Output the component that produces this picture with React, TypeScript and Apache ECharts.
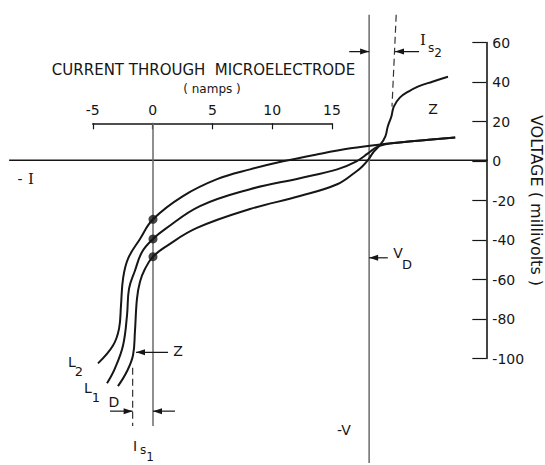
import React, { useEffect, useRef } from "react";
import * as echarts from "echarts";

// Current through the microelectrode (nA) and membrane voltage (mV)
const CURRENT_TICKS = [-5, 0, 5, 10, 15];
const VOLTAGE_TICKS = [-100, -80, -60, -40, -20, 0, 20, 40, 60];

// I–V curves: [current nA, voltage mV]
const L2_CURVE: [number, number][] = [
  [-4.57, -103.3], [-3.32, -94.2], [-2.82, -85.6], [-2.66, -73.9], [-2.49, -60.3],
  [-2.08, -50.1], [-1.08, -40.0], [0, -30], [2.49, -18.2], [5.32, -9.6],
  [8.06, -4.6], [10.8, -0.5], [13.6, 3.0], [16.4, 6.1], [18.9, 8.1],
  [22.2, 10.1], [25.1, 11.6],
];
const L1_CURVE: [number, number][] = [
  [-3.82, -113.4], [-3.16, -105.8], [-2.49, -94.2], [-2.16, -79.0], [-1.99, -65.3],
  [-1.5, -56.2], [-0.91, -46.6], [0, -40], [1.0, -35.0], [3.9, -23.3],
  [8.06, -14.7], [12.2, -9.1], [15.3, -4.6], [16.9, -0.5], [17.85, 3.5],
  [18.7, 7.1], [20.5, 9.1], [22.9, 10.4], [25.1, 11.6],
];
const D_CURVE: [number, number][] = [
  [-2.91, -114.9], [-2.16, -107.3], [-1.66, -99.2], [-1.5, -87.1], [-1.33, -70.4],
  [-1.08, -61.8], [-0.66, -55.2], [0, -49], [1.16, -43.5], [3.65, -34.4],
  [8.06, -24.8], [12.2, -18.2], [15.3, -12.2], [16.8, -6.1], [17.4, -3.0],
  [17.9, 0.5], [18.3, 4.1], [18.9, 8.1], [19.3, 12.2], [19.5, 17.2],
  [19.8, 22.3], [20.0, 27.3], [20.5, 31.9], [21.2, 34.9], [22.0, 37.5],
  [23.2, 40.0], [24.5, 42.5],
];

// Resting points at zero injected current
const ZERO_CURRENT_POINTS: [number, number][] = [[0, -30], [0, -40], [0, -49]];

// Reference lines
const ZERO_CURRENT_LINE: [number, number][] = [[0, 19.1], [0, -135.2]];
const VD_LINE: [number, number][] = [[17.95, 74], [17.95, -154]];
const ZERO_VOLTAGE_LINE: [number, number][] = [[-11.95, 0], [27.8, 0]];
const IS1_LINE: [number, number][] = [[-1.69, -105.5], [-1.69, -135.2]];
const IS2_LINE: [number, number][] = [[20.2, 74], [19.85, 27.3]];

// Arrows: tail -> head
const ARROWS: { tail: [number, number]; head: [number, number] }[] = [
  { tail: [16.3, 55.3], head: [17.95, 55.3] },
  { tail: [22.1, 55.3], head: [20.1, 55.3] },
  { tail: [19.5, -49.6], head: [17.95, -49.6] },
  { tail: [1.25, -97.7], head: [-1.41, -97.7] },
  { tail: [-3.57, -127.6], head: [-1.69, -127.6] },
  { tail: [1.83, -127.6], head: [0, -127.6] },
];

// Full extent of the plotting plane behind the drawn axes
const PLANE_CURRENT = [-12, 28];
const PLANE_VOLTAGE = [-155, 75];

const INK = "#161616";
const FONT = "DejaVu Sans";

const onPlane = { xAxisIndex: 1, yAxisIndex: 1 };

function curveSeries(name: string, data: [number, number][]) {
  return {
    name,
    type: "line",
    ...onPlane,
    data,
    smooth: 0.4,
    symbol: "none",
    lineStyle: { color: INK, width: 2 },
    z: 4,
  };
}

function refLine(data: [number, number][], color: string, width: number, dashed = false) {
  return {
    type: "line",
    ...onPlane,
    data,
    symbol: "none",
    silent: true,
    lineStyle: { color, width, type: dashed ? [7, 4] : "solid" },
    z: 2,
  };
}

function arrowSeries(tail: [number, number], head: [number, number]) {
  const right = head[0] > tail[0];
  return {
    type: "line",
    ...onPlane,
    silent: true,
    symbol: "none",
    lineStyle: { color: INK, width: 1.2 },
    data: [
      { value: tail, symbol: "none" },
      {
        value: head,
        symbol: right ? "path://M0,0L10,4L0,8Z" : "path://M10,0L0,4L10,8Z",
        symbolSize: [9, 6],
        symbolOffset: [right ? -4.5 : 4.5, 0],
        itemStyle: { color: INK },
      },
    ],
    z: 3,
  };
}

function txt(text: string, x: number, y: number, size: number, family = FONT) {
  return {
    type: "text",
    x,
    y,
    silent: true,
    style: {
      text,
      fill: INK,
      font: `${size}px "${family}"`,
      align: "center",
      verticalAlign: "middle",
    },
  };
}

export default function App() {
  const ref = useRef<HTMLDivElement>(null);

  useEffect(() => {
    if (!ref.current) return;
    const chart = echarts.init(ref.current, undefined, { renderer: "svg" });
    const option = {
      animation: false,
      backgroundColor: "#ffffff",
      grid: [
        // grid carrying the drawn current and voltage scales
        { left: 92.8, top: 42.5, width: 240.8, height: 316 },
        // same scale, wider extent, for the curves and guide lines
        { left: 8.52, top: 12.875, width: 481.6, height: 454.25 },
      ],
      xAxis: [
        {
          type: "value",
          gridIndex: 0,
          position: "top",
          offset: -80.8,
          min: CURRENT_TICKS[0],
          max: CURRENT_TICKS[CURRENT_TICKS.length - 1],
          interval: 5,
          axisLine: { show: true, onZero: false, lineStyle: { color: INK, width: 1.6 } },
          axisTick: { show: true, inside: true, length: 6, lineStyle: { color: INK, width: 1.2 } },
          axisLabel: { color: INK, fontSize: 14, fontFamily: FONT, margin: 6 },
          splitLine: { show: false },
        },
        {
          type: "value",
          gridIndex: 1,
          min: PLANE_CURRENT[0],
          max: PLANE_CURRENT[1],
          show: false,
        },
      ],
      yAxis: [
        {
          type: "value",
          gridIndex: 0,
          position: "right",
          offset: 154.4,
          min: VOLTAGE_TICKS[0],
          max: VOLTAGE_TICKS[VOLTAGE_TICKS.length - 1],
          interval: 20,
          axisLine: { show: true, onZero: false, lineStyle: { color: INK, width: 1.6 } },
          axisTick: { show: true, inside: true, length: 14, lineStyle: { color: INK, width: 1.2 } },
          axisLabel: { color: INK, fontSize: 14, fontFamily: FONT, margin: 6 },
          splitLine: { show: false },
          name: "VOLTAGE ( millivolts )",
          nameLocation: "middle",
          nameRotate: -90,
          nameGap: 40,
          nameTextStyle: { color: INK, fontSize: 16, fontFamily: FONT },
        },
        {
          type: "value",
          gridIndex: 1,
          min: PLANE_VOLTAGE[0],
          max: PLANE_VOLTAGE[1],
          show: false,
        },
      ],
      series: [
        refLine(ZERO_VOLTAGE_LINE, INK, 1.5),
        refLine(ZERO_CURRENT_LINE, "#6a6a6a", 1.5),
        refLine(VD_LINE, "#6a6a6a", 1.5),
        refLine(IS1_LINE, "#333", 1.2, true),
        refLine(IS2_LINE, "#333", 1.2, true),
        curveSeries("L2", L2_CURVE),
        curveSeries("L1", L1_CURVE),
        curveSeries("D", D_CURVE),
        {
          type: "scatter",
          ...onPlane,
          data: ZERO_CURRENT_POINTS,
          symbol: "circle",
          symbolSize: 9,
          itemStyle: { color: INK },
          z: 5,
        },
        ...ARROWS.map((a) => arrowSeries(a.tail, a.head)),
      ],
      graphic: [
        txt("CURRENT THROUGH  MICROELECTRODE", 203.5, 70, 15),
        txt("( namps )", 212, 89, 12),
        txt("-", 20, 179, 14),
        txt("I", 31, 179, 15, "DejaVu Serif"),
        txt("-V", 344, 430, 14),
        txt("V", 398, 253, 14),
        txt("D", 407, 264, 13),
        txt("I", 423, 40, 15, "DejaVu Serif"),
        txt("s", 431, 48, 12),
        txt("2", 438, 53, 12),
        txt("Z", 433, 109, 14),
        txt("Z", 178, 351, 14),
        txt("L", 72, 362, 14),
        txt("2", 79, 371, 13),
        txt("L", 88, 388, 14),
        txt("1", 96, 397, 13),
        txt("D", 114, 402, 14),
        txt("I", 135, 446, 14),
        txt("s", 143, 450, 12),
        txt("1", 150, 457, 12),
      ],
    };
    chart.setOption(option as any);
    return () => chart.dispose();
  }, []);

  return (
    <div
      ref={ref}
      style={{ position: "absolute", left: 0, top: 0, width: 545, height: 465, background: "#fff" }}
    />
  );
}
